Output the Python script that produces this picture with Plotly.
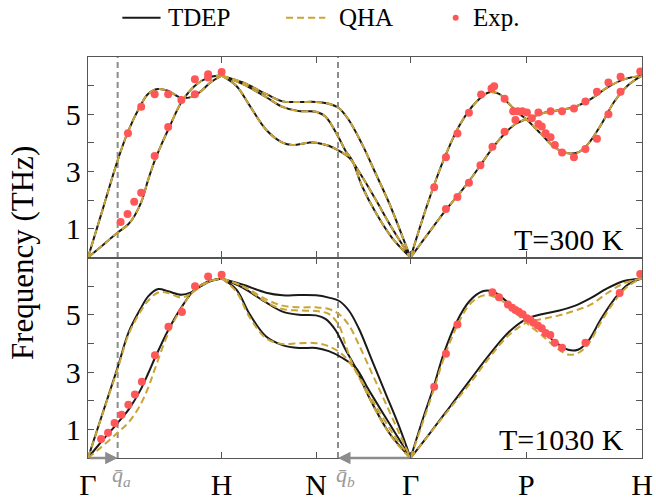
import plotly.graph_objects as go
from plotly.subplots import make_subplots

# ---- k-path: Γ-H-N-Γ-P-H for a bcc lattice (units of 2π/a) ----
KPATH_TICKS = [0.0, 1.0, 1.7071, 2.4142, 3.2802, 4.1463]
KPATH_LABELS = ["Γ", "H", "N", "Γ", "P", "H"]
QA = 0.222
QB = 1.871

# ================= T = 300 K =================
# TDEP branches (x along path, frequency in THz)
gh_up_x_300 = [0, 0.11, 0.222, 0.301, 0.388, 0.449, 0.523, 0.598, 0.696, 0.770, 0.844, 0.919, 1.0]
gh_up_300 = [0, 1.68, 3.39, 4.41, 5.26, 5.71, 5.88, 5.82, 5.58, 5.60, 5.80, 6.12, 6.35]
gh_lo_x_300 = [0, 0.11, 0.222, 0.30, 0.35, 0.40, 0.45, 0.50, 0.55, 0.60, 0.70, 0.80, 0.90, 1.0]
gh_lo_300 = [0, 0.43, 0.87, 1.15, 1.47, 1.95, 2.71, 3.39, 3.95, 4.46, 5.43, 6.00, 6.28, 6.35]

hng_1_x_300 = [1, 1.160, 1.333, 1.456, 1.579, 1.707, 1.802, 1.877, 1.952, 2.052, 2.152, 2.252, 2.352, 2.414]
hng_1_300 = [6.35, 6.11, 5.71, 5.45, 5.43, 5.43, 5.37, 5.22, 4.80, 3.95, 2.94, 1.92, 0.75, 0]
hng_2_x_300 = [1, 1.160, 1.333, 1.456, 1.579, 1.707, 1.777, 1.877, 1.927, 1.977, 2.052, 2.152, 2.277, 2.414]
hng_2_300 = [6.35, 6.05, 5.60, 5.26, 5.11, 5.09, 4.92, 4.18, 3.73, 3.39, 2.48, 1.58, 0.68, 0]
hng_3_x_300 = [1, 1.111, 1.209, 1.333, 1.456, 1.530, 1.653, 1.707, 1.802, 1.877, 1.952, 2.052, 2.152, 2.277, 2.414]
hng_3_300 = [6.35, 5.99, 5.31, 4.46, 4.01, 3.93, 4.01, 4.01, 3.90, 3.73, 3.50, 2.82, 2.03, 1.01, 0]

gph_up_x_300 = [2.414, 2.537, 2.660, 2.782, 2.905, 3.003, 3.077, 3.150, 3.224, 3.280, 3.396, 3.494,
                3.593, 3.667, 3.740, 3.839, 3.937, 4.036, 4.146]
gph_up_300 = [0, 1.81, 3.39, 4.63, 5.43, 5.77, 5.71, 5.37, 5.03, 4.83, 4.29, 3.84,
              3.64, 3.67, 3.95, 4.63, 5.43, 5.99, 6.35]
gph_lo_x_300 = [2.414, 2.540, 2.679, 2.765, 2.851, 2.937, 3.027, 3.118, 3.199, 3.280, 3.396, 3.519,
                3.642, 3.765, 3.888, 4.011, 4.146]
gph_lo_300 = [0, 0.80, 1.66, 2.15, 2.66, 3.22, 3.82, 4.32, 4.66, 4.83, 5.03, 5.14,
              5.26, 5.54, 5.94, 6.22, 6.35]

# Inelastic neutron scattering points, 300 K
exp_x_300 = [0.244, 0.296, 0.346, 0.398, 0.499, 0.600, 0.299, 0.398, 0.499, 0.600, 0.699, 0.800,
             0.800, 0.899, 0.899, 1.000,
             2.591, 2.679, 2.765, 2.851, 2.942, 3.020, 3.040, 3.118,
             2.679, 2.765, 2.851, 2.937, 3.027, 3.118,
             3.182, 3.216, 3.251, 3.285, 3.199, 3.322, 3.371, 3.371, 3.396, 3.425, 3.462, 3.494,
             3.548, 3.637, 3.723, 3.809, 3.462, 3.548, 3.637, 3.723, 3.809, 3.895, 3.986, 3.895,
             3.986, 4.133]
exp_300 = [1.24, 1.52, 1.95, 2.26, 3.54, 4.56, 4.34, 5.26, 5.70, 5.70, 5.50, 5.70,
           6.22, 6.40, 6.28, 6.48,
           2.45, 3.50, 4.33, 5.05, 5.69, 5.90, 5.98, 5.54,
           1.69, 2.11, 2.61, 3.22, 3.87, 4.39,
           5.11, 5.11, 5.11, 5.06, 4.80, 4.86, 5.06, 4.66, 4.57, 4.34, 4.20, 3.93,
           3.67, 3.50, 3.79, 4.15, 5.11, 5.11, 5.20, 5.45, 5.79, 6.11, 6.31, 5.00,
           5.79, 6.49]

# ================= T = 1030 K =================
# TDEP
gh_up_x_1030 = [0, 0.11, 0.221, 0.305, 0.391, 0.452, 0.526, 0.600, 0.698, 0.771, 0.845, 0.919, 1.0]
gh_up_1030 = [0, 1.57, 3.15, 4.40, 5.19, 5.65, 5.90, 5.82, 5.70, 5.78, 6.00, 6.18, 6.27]
gh_lo_x_1030 = [0, 0.084, 0.221, 0.305, 0.391, 0.45, 0.501, 0.600, 0.698, 0.796, 0.894, 1.0]
gh_lo_1030 = [0, 0.48, 1.22, 1.70, 2.36, 2.95, 3.49, 4.46, 5.25, 5.87, 6.16, 6.27]

hng_1_x_1030 = [1, 1.160, 1.333, 1.456, 1.579, 1.707, 1.802, 1.877, 1.952, 2.027, 2.127, 2.227, 2.327, 2.414]
hng_1_1030 = [6.27, 6.05, 5.77, 5.68, 5.69, 5.68, 5.60, 5.49, 5.15, 4.52, 3.39, 2.26, 1.12, 0]
hng_2_x_1030 = [1, 1.160, 1.333, 1.456, 1.579, 1.707, 1.777, 1.852, 1.927, 2.002, 2.102, 2.252, 2.414]
hng_2_1030 = [6.27, 5.94, 5.43, 5.11, 5.00, 4.98, 4.86, 4.47, 3.79, 3.16, 2.14, 0.89, 0]
hng_3_x_1030 = [1, 1.111, 1.209, 1.333, 1.456, 1.579, 1.707, 1.802, 1.902, 2.002, 2.102, 2.252, 2.414]
hng_3_1030 = [6.27, 5.88, 5.03, 4.24, 3.94, 3.84, 3.84, 3.73, 3.50, 3.16, 2.37, 1.23, 0]

gph_up_x_1030 = [2.414, 2.512, 2.586, 2.660, 2.758, 2.856, 2.954, 3.028, 3.101, 3.199, 3.280, 3.396,
                 3.494, 3.593, 3.667, 3.740, 3.839, 3.937, 4.036, 4.146]
gph_up_1030 = [0, 1.45, 2.47, 3.61, 4.74, 5.48, 5.82, 5.82, 5.59, 5.19, 4.85, 4.46,
               4.06, 3.78, 3.78, 4.06, 4.85, 5.53, 6.04, 6.27]
gph_lo_x_1030 = [2.414, 2.561, 2.709, 2.856, 3.003, 3.150, 3.280, 3.396, 3.519, 3.642, 3.765, 3.888,
                 4.011, 4.146]
gph_lo_1030 = [0, 0.88, 1.79, 2.70, 3.60, 4.40, 4.85, 5.02, 5.14, 5.31, 5.59, 5.93, 6.18, 6.27]

# QHA
gh_up_q_x_1030 = [0, 0.11, 0.221, 0.305, 0.391, 0.452, 0.526, 0.600, 0.698, 0.771, 0.845, 0.919, 1.0]
gh_up_q_1030 = [0, 1.55, 3.10, 4.33, 5.10, 5.50, 5.78, 5.76, 5.60, 5.74, 6.00, 6.18, 6.27]
gh_lo_q_x_1030 = [0, 0.10, 0.221, 0.305, 0.391, 0.45, 0.50, 0.60, 0.698, 0.796, 0.894, 1.0]
gh_lo_q_1030 = [0, 0.38, 0.88, 1.25, 1.85, 2.45, 3.10, 4.35, 5.22, 5.85, 6.15, 6.27]

hng_1_q_x_1030 = [1, 1.160, 1.333, 1.456, 1.579, 1.707, 1.802, 1.877, 1.952, 2.027, 2.127, 2.227, 2.327, 2.414]
hng_1_q_1030 = [6.27, 6.00, 5.54, 5.32, 5.26, 5.26, 5.20, 5.03, 4.64, 3.96, 2.94, 1.92, 0.89, 0]
hng_2_q_x_1030 = [1, 1.160, 1.333, 1.456, 1.579, 1.707, 1.802, 1.877, 1.927, 1.977, 2.052, 2.177, 2.302, 2.414]
hng_2_q_1030 = [6.27, 5.98, 5.45, 5.20, 5.15, 5.13, 5.03, 4.64, 3.96, 3.30, 2.60, 1.46, 0.55, 0]
hng_3_q_x_1030 = [1, 1.111, 1.209, 1.333, 1.456, 1.579, 1.707, 1.802, 1.902, 2.002, 2.127, 2.277, 2.414]
hng_3_q_1030 = [6.27, 5.80, 4.92, 4.18, 3.98, 4.01, 4.01, 3.90, 3.62, 3.05, 2.03, 0.89, 0]

gph_up_q_x_1030 = [2.414, 2.586, 2.660, 2.758, 2.856, 2.954, 3.028, 3.101, 3.199, 3.280, 3.396, 3.494,
                   3.593, 3.667, 3.740, 3.839, 3.937, 4.036, 4.146]
gph_up_q_1030 = [0, 2.36, 3.44, 4.57, 5.36, 5.67, 5.65, 5.48, 5.08, 4.72, 4.29, 3.89,
                 3.61, 3.66, 3.95, 4.74, 5.45, 5.98, 6.27]
gph_lo_q_x_1030 = [2.414, 2.660, 2.856, 3.003, 3.150, 3.280, 3.396, 3.519, 3.642, 3.765, 3.888, 4.011, 4.146]
gph_lo_q_1030 = [0, 1.45, 2.59, 3.50, 4.29, 4.72, 4.85, 4.97, 5.14, 5.36, 5.76, 6.10, 6.27]

# Inelastic neutron scattering points, 1030 K
exp_x_1030 = [0.098, 0.150, 0.199, 0.251, 0.302, 0.351, 0.403, 0.501, 0.602, 0.703, 0.801, 0.899, 1.000,
              2.591, 2.679, 2.765, 3.027, 3.076, 3.143, 3.175, 3.199, 3.224, 3.253, 3.285, 3.310,
              3.334, 3.366, 3.396, 3.425, 3.460, 3.494, 3.548, 3.723, 3.979, 4.133]
exp_1030 = [0.66, 0.88, 1.22, 1.51, 1.86, 2.22, 2.66, 3.59, 4.58, 5.10, 6.00, 6.34, 6.40,
            2.49, 3.64, 4.66, 5.79, 5.61, 5.36, 5.25, 5.17, 5.11, 5.02, 4.88, 4.83,
            4.72, 4.63, 4.53, 4.36, 4.29, 4.02, 3.85, 4.02, 5.76, 6.42]

# at 300 K the QHA branches coincide with TDEP within the line width
tdep_300 = [(gh_up_x_300, gh_up_300), (gh_lo_x_300, gh_lo_300),
            (hng_1_x_300, hng_1_300), (hng_2_x_300, hng_2_300), (hng_3_x_300, hng_3_300),
            (gph_up_x_300, gph_up_300), (gph_lo_x_300, gph_lo_300)]
qha_300 = tdep_300
tdep_1030 = [(gh_up_x_1030, gh_up_1030), (gh_lo_x_1030, gh_lo_1030),
             (hng_1_x_1030, hng_1_1030), (hng_2_x_1030, hng_2_1030), (hng_3_x_1030, hng_3_1030),
             (gph_up_x_1030, gph_up_1030), (gph_lo_x_1030, gph_lo_1030)]
qha_1030 = [(gh_up_q_x_1030, gh_up_q_1030), (gh_lo_q_x_1030, gh_lo_q_1030),
            (hng_1_q_x_1030, hng_1_q_1030), (hng_2_q_x_1030, hng_2_q_1030), (hng_3_q_x_1030, hng_3_q_1030),
            (gph_up_q_x_1030, gph_up_q_1030), (gph_lo_q_x_1030, gph_lo_q_1030)]

BLACK = "#1a1a1a"
GOLD = "#C9A536"
RED = "#FF5757"
FRAME = "#555555"
GRAY = "#8c8c8c"
FONT = "Liberation Serif"
QHA_DASH = "7px,4px"


def serif(text):
    # pin the family on the text span itself
    return f'<span style="font-family:{FONT}">{text}</span>'


fig = make_subplots(rows=2, cols=1, shared_xaxes=True, vertical_spacing=0)


def add_branches(branches, row, color, dash):
    for x, f in branches:
        fig.add_trace(go.Scatter(
            x=x, y=f, mode="lines", showlegend=False,
            line=dict(color=color, width=2, dash=dash, shape="spline", smoothing=1.0),
            hoverinfo="skip"), row=row, col=1)


add_branches(tdep_300, 1, BLACK, "solid")
add_branches(qha_300, 1, GOLD, QHA_DASH)
fig.add_trace(go.Scatter(x=exp_x_300, y=exp_300, mode="markers", showlegend=False,
                         marker=dict(color=RED, size=8), hoverinfo="skip"), row=1, col=1)
add_branches(tdep_1030, 2, BLACK, "solid")
add_branches(qha_1030, 2, GOLD, QHA_DASH)
fig.add_trace(go.Scatter(x=exp_x_1030, y=exp_1030, mode="markers", showlegend=False,
                         marker=dict(color=RED, size=8), hoverinfo="skip"), row=2, col=1)

axis_common = dict(showline=True, linecolor=FRAME, linewidth=1.3, mirror="ticks",
                   ticks="inside", ticklen=6, tickwidth=1.3, tickcolor=FRAME,
                   showgrid=False, zeroline=False)
fig.update_xaxes(range=[0, KPATH_TICKS[-1]], tickvals=KPATH_TICKS, **axis_common)
fig.update_xaxes(showticklabels=False, row=1, col=1)
fig.update_xaxes(ticktext=KPATH_LABELS, showticklabels=True, ticklabeloverflow="allow",
                 tickfont=dict(family=FONT, size=30, color="black"), row=2, col=1)
fig.update_yaxes(range=[0, 7], tickvals=[1, 2, 3, 4, 5, 6], ticktext=["1", "", "3", "", "5", ""],
                 tickfont=dict(family=FONT, size=30, color="black"), **axis_common)
fig.update_layout(yaxis=dict(domain=[0.5, 1.0]), yaxis2=dict(domain=[0.0, 0.5]))

# q-point markers spanning both panels
for xq in (QA, QB):
    fig.add_shape(type="line", xref="x2", yref="paper", x0=xq, x1=xq, y0=0, y1=1,
                  line=dict(color=GRAY, width=2, dash="6px,4px"), layer="below")

fig.add_annotation(text=serif("Frequency (THz)"), xref="paper", yref="paper", x=-0.118, y=0.51,
                   textangle=-90, showarrow=False, font=dict(family=FONT, size=31, color="black"),
                   xanchor="center", yanchor="middle")
fig.add_annotation(text=serif("T=300 K"), xref="x domain", yref="y domain", x=1, y=0, xanchor="right",
                   yanchor="bottom", xshift=-16, showarrow=False,
                   font=dict(family=FONT, size=30, color="black"))
fig.add_annotation(text=serif("T=1030 K"), xref="x2 domain", yref="y2 domain", x=1, y=0, xanchor="right",
                   yanchor="bottom", xshift=-16, showarrow=False,
                   font=dict(family=FONT, size=30, color="black"))
fig.add_annotation(text=serif("<i>q̄</i><sub><i>a</i></sub>"), xref="x2", yref="y2", x=QA, y=0,
                   xanchor="center", yanchor="top", xshift=4, yshift=-2, showarrow=False,
                   font=dict(family=FONT, size=22, color="#999999"))
fig.add_annotation(text=serif("<i>q̄</i><sub><i>b</i></sub>"), xref="x2", yref="y2", x=QB, y=0,
                   xanchor="center", yanchor="top", xshift=8, yshift=-2, showarrow=False,
                   font=dict(family=FONT, size=22, color="#999999"))
# path-length arrows Γ→q̄a and Γ→q̄b along the lower axis
fig.add_annotation(text="", xref="x2", yref="y2", x=QA, y=0, axref="x2", ayref="y2", ax=0, ay=0,
                   showarrow=True, arrowhead=2, arrowsize=1, arrowwidth=2.5, arrowcolor=GRAY, standoff=0)
fig.add_annotation(text="", xref="x2", yref="y2", x=QB, y=0, axref="x2", ayref="y2", ax=KPATH_TICKS[3], ay=0,
                   showarrow=True, arrowhead=2, arrowsize=1, arrowwidth=2.5, arrowcolor=GRAY, standoff=0)

# legend row above the panels (paper coordinates: plot area spans 565 x 414 px)
LEG_Y = 1.098
fig.add_shape(type="line", xref="paper", yref="paper", x0=0.062, x1=0.131, y0=LEG_Y, y1=LEG_Y,
              line=dict(color=BLACK, width=2))
fig.add_shape(type="line", xref="paper", yref="paper", x0=0.3575, x1=0.4283, y0=LEG_Y, y1=LEG_Y,
              line=dict(color=GOLD, width=2, dash=QHA_DASH))
fig.add_shape(type="circle", xref="paper", yref="paper", xsizemode="pixel", ysizemode="pixel",
              xanchor=0.6637, yanchor=LEG_Y, x0=-3, x1=3, y0=-3, y1=3,
              fillcolor=RED, line=dict(color=RED, width=0))
for label, xl in (("TDEP", 0.140), ("QHA", 0.450), ("Exp.", 0.692)):
    fig.add_annotation(text=serif(label), xref="paper", yref="paper", x=xl, y=LEG_Y, xanchor="left",
                       yanchor="middle", showarrow=False, font=dict(family=FONT, size=25, color="black"))

fig.update_layout(
    width=656, height=504,
    margin=dict(l=88, r=3, t=57, b=33),
    plot_bgcolor="white", paper_bgcolor="white",
    showlegend=False,
)

fig.write_html("out.html")
